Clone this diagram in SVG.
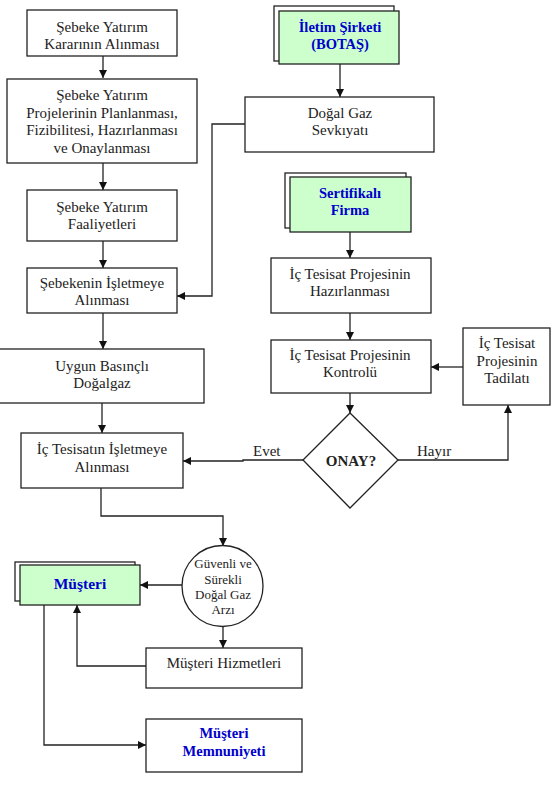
<svg xmlns="http://www.w3.org/2000/svg" width="552" height="792" viewBox="0 0 552 792" font-family="Liberation Serif, Times New Roman, serif">
<style>
.b{fill:#fff;stroke:#222;stroke-width:1.3}
.g{fill:#ccffcc;stroke:#222;stroke-width:1.3}
.t{font-size:15px;fill:#222;text-anchor:middle}
.bt{font-size:14.5px;font-weight:bold;fill:#0000cc;text-anchor:middle}
.s{font-size:13px;fill:#222;text-anchor:middle}
.c{fill:none;stroke:#222;stroke-width:1.3}
</style>
<defs>
<marker id="ah" viewBox="0 0 10 10" refX="10" refY="5" markerWidth="8" markerHeight="8" markerUnits="userSpaceOnUse" orient="auto">
<path d="M0,0 L10,5 L0,10 z" fill="#111"/>
</marker>
</defs>
<rect width="552" height="792" fill="#fff"/>
<g id="connectors">
<path class="c" d="M103,56 V78" marker-end="url(#ah)"/>
<path class="c" d="M103,163 V190" marker-end="url(#ah)"/>
<path class="c" d="M103,241 V268" marker-end="url(#ah)"/>
<path class="c" d="M103,313 V349" marker-end="url(#ah)"/>
<path class="c" d="M102,403 V433" marker-end="url(#ah)"/>
<path class="c" d="M340,64 V97" marker-end="url(#ah)"/>
<path class="c" d="M245,124 H212 V296 H177" marker-end="url(#ah)"/>
<path class="c" d="M350,232 V258" marker-end="url(#ah)"/>
<path class="c" d="M350,313 V340" marker-end="url(#ah)"/>
<path class="c" d="M463,367 H431" marker-end="url(#ah)"/>
<path class="c" d="M350,393 V413" marker-end="url(#ah)"/>
<path class="c" d="M303,460 H243 V461 H183" marker-end="url(#ah)"/>
<path class="c" d="M398,460 H508 V405" marker-end="url(#ah)"/>
<path class="c" d="M101,488 V516 H223 V546" marker-end="url(#ah)"/>
<path class="c" d="M182,585 H140" marker-end="url(#ah)"/>
<path class="c" d="M223,626 V648" marker-end="url(#ah)"/>
<path class="c" d="M146,666 H77 V605" marker-end="url(#ah)"/>
<path class="c" d="M44,605 V745 H146" marker-end="url(#ah)"/>
<text class="t" x="253" y="456" style="text-anchor:start">Evet</text>
<text class="t" x="417" y="456" style="text-anchor:start">Hayır</text>
</g>
<g id="n1">
<rect class="b" x="27" y="10" width="150" height="46"/>
<text class="t" x="102" y="32">Şebeke Yatırım</text>
<text class="t" x="102" y="49">Kararının Alınması</text>
</g>
<g id="n2">
<rect class="b" x="7" y="79" width="190" height="84"/>
<text class="t" x="102" y="100">Şebeke Yatırım</text>
<text class="t" x="102" y="118">Projelerinin Planlanması,</text>
<text class="t" x="102" y="135">Fizibilitesi, Hazırlanması</text>
<text class="t" x="102" y="153">ve Onaylanması</text>
</g>
<g id="n3">
<rect class="b" x="27" y="190" width="150" height="51"/>
<text class="t" x="102" y="212">Şebeke Yatırım</text>
<text class="t" x="102" y="229">Faaliyetleri</text>
</g>
<g id="n4">
<rect class="b" x="27" y="268" width="150" height="45"/>
<text class="t" x="102" y="288">Şebekenin İşletmeye</text>
<text class="t" x="102" y="305">Alınması</text>
</g>
<g id="n5">
<rect class="b" x="-1" y="349" width="205" height="54"/>
<text class="t" x="102" y="371">Uygun Basınçlı</text>
<text class="t" x="102" y="388">Doğalgaz</text>
</g>
<g id="n6">
<rect class="b" x="21" y="433" width="162" height="55"/>
<text class="t" x="102" y="454">İç Tesisatın İşletmeye</text>
<text class="t" x="102" y="472">Alınması</text>
</g>
<g id="n7">
<rect class="b" x="274" y="6" width="120" height="55"/>
<rect class="g" x="279" y="11" width="120" height="53"/>
<text class="bt" x="340" y="32">İletim Şirketi</text>
<text class="bt" x="340" y="49">(BOTAŞ)</text>
</g>
<g id="n8">
<rect class="b" x="245" y="97" width="189" height="55"/>
<text class="t" x="340" y="118">Doğal Gaz</text>
<text class="t" x="340" y="135">Sevkıyatı</text>
</g>
<g id="n9">
<rect class="b" x="285" y="173" width="121" height="55"/>
<rect class="g" x="290" y="177" width="121" height="55"/>
<text class="bt" x="350" y="198">Sertifikalı</text>
<text class="bt" x="350" y="215">Firma</text>
</g>
<g id="n10">
<rect class="b" x="271" y="258" width="160" height="55"/>
<text class="t" x="350" y="279">İç Tesisat Projesinin</text>
<text class="t" x="350" y="296">Hazırlanması</text>
</g>
<g id="n11">
<rect class="b" x="271" y="340" width="160" height="53"/>
<text class="t" x="350" y="360">İç Tesisat Projesinin</text>
<text class="t" x="350" y="377">Kontrolü</text>
</g>
<g id="n12">
<rect class="b" x="463" y="328" width="87" height="77"/>
<text class="t" x="507" y="348">İç Tesisat</text>
<text class="t" x="507" y="366">Projesinin</text>
<text class="t" x="507" y="383">Tadilatı</text>
</g>
<g id="n13">
<polygon class="b" points="350,413 398,460 350,508 303,460"/>
<text class="t" x="351" y="466" style="font-weight:bold">ONAY?</text>
</g>
<g id="n14">
<circle class="b" cx="222.5" cy="586" r="40.5"/>
<text class="s" x="223" y="568">Güvenli ve</text>
<text class="s" x="223" y="584">Sürekli</text>
<text class="s" x="223" y="599">Doğal Gaz</text>
<text class="s" x="223" y="614">Arzı</text>
</g>
<g id="n15">
<rect class="b" x="15" y="562" width="120" height="39"/>
<rect class="g" x="20" y="565" width="120" height="40"/>
<text class="bt" x="80" y="589" style="font-size:15.5px">Müşteri</text>
</g>
<g id="n16">
<rect class="b" x="146" y="648" width="156" height="40"/>
<text class="t" x="224" y="668">Müşteri Hizmetleri</text>
</g>
<g id="n17">
<rect class="b" x="146" y="719" width="156" height="53"/>
<text class="bt" x="224" y="738">Müşteri</text>
<text class="bt" x="224" y="756">Memnuniyeti</text>
</g>
</svg>
